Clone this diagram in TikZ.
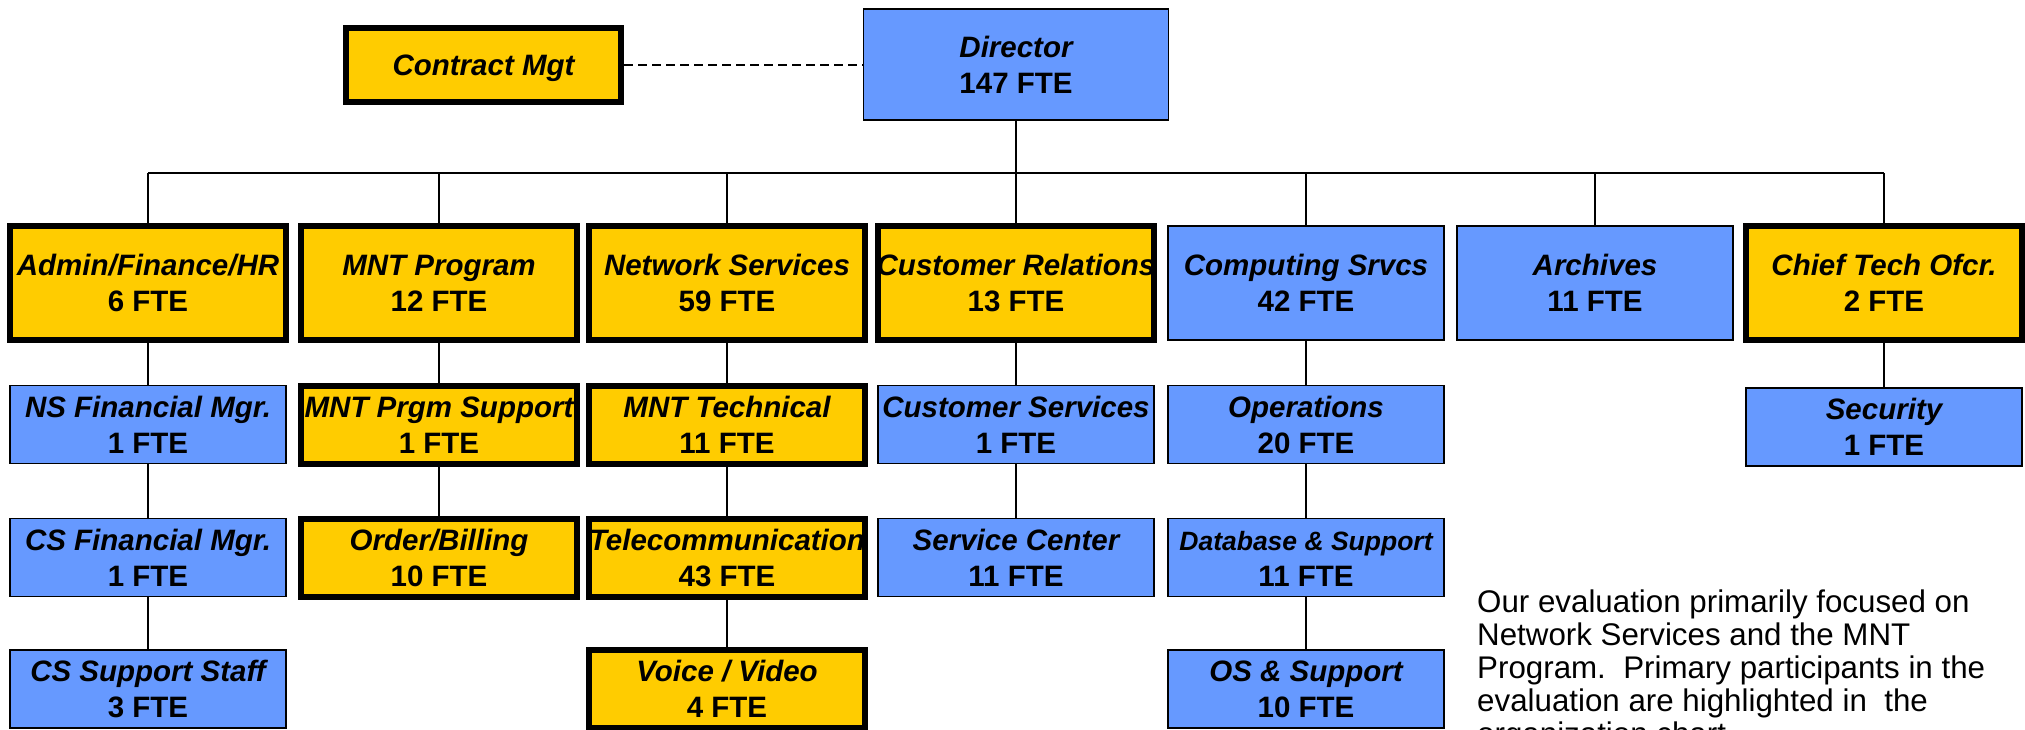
\documentclass[tikz,border=0pt]{standalone}
\usepackage{fontspec}
\setmainfont{Liberation Sans}
\definecolor{orgblue}{RGB}{102,153,255}
\definecolor{orggold}{RGB}{255,204,0}
% two-line entry: title (bold italic) over head count (bold)
\newcommand{\entry}[2]{\makebox[0pt]{\bfseries\itshape #1}\\\makebox[0pt]{\bfseries #2}}
\tikzset{
  unit/.style={draw=black, minimum width=276pt, inner sep=0pt, align=center,
    text height=57.5pt, text depth=0pt, font=\fontsize{29.5}{36}\selectfont},
  bluebox/.style={unit, fill=orgblue, line width=1.8pt},
  goldbox/.style={unit, fill=orggold, line width=6pt},
  tall/.style={minimum height=114pt},
  short/.style={minimum height=78pt},
  link/.style={line width=1.5pt},
  busline/.style={line width=2.2pt},
  dashline/.style={line width=1.5pt, dash pattern=on 9pt off 5pt},
  note/.style={anchor=north west, inner sep=0pt, align=left, text height=154.4pt,
    text depth=0pt, font=\fontsize{31.3}{33}\selectfont}
}
\begin{document}
\begin{tikzpicture}[x=1pt,y=-1pt]
\useasboundingbox (0,0) rectangle (2025,729);
\clip (0,0) rectangle (2025,729);

% top of the chart
\node[bluebox, minimum width=305pt, minimum height=111pt] (dir) at (1016,64.5) {\entry{Director}{147 FTE}};
\node[goldbox, minimum width=275pt, minimum height=74pt, text height=21.5pt] (cmg) at (483.5,65) {\makebox[0pt]{\bfseries\itshape Contract Mgt}};

% first level
\node[goldbox, tall] (adm) at (148,283)  {\entry{Admin/Finance/HR}{6 FTE}};
\node[goldbox, tall] (mnp) at (439,283)  {\entry{MNT Program}{12 FTE}};
\node[goldbox, tall] (nsv) at (727,283)  {\entry{Network Services}{59 FTE}};
\node[goldbox, tall] (crl) at (1016,283) {\entry{Customer Relations}{13 FTE}};
\node[bluebox, tall] (cps) at (1306,283) {\entry{Computing Srvcs}{42 FTE}};
\node[bluebox, tall] (arc) at (1595,283) {\entry{Archives}{11 FTE}};
\node[goldbox, tall] (cto) at (1884,283) {\entry{Chief Tech Ofcr.}{2 FTE}};

% second level
\node[bluebox, short] (nsf) at (148,424.5)  {\entry{NS Financial Mgr.}{1 FTE}};
\node[goldbox, short] (mps) at (439,424.5)  {\entry{MNT Prgm Support}{1 FTE}};
\node[goldbox, short] (mtc) at (727,424.5)  {\entry{MNT Technical}{11 FTE}};
\node[bluebox, short] (csv) at (1016,424.5) {\entry{Customer Services}{1 FTE}};
\node[bluebox, short] (ops) at (1306,424.5) {\entry{Operations}{20 FTE}};
\node[bluebox, short] (sec) at (1884,427)   {\entry{Security}{1 FTE}};

% third level
\node[bluebox, short] (csf) at (148,557.5)  {\entry{CS Financial Mgr.}{1 FTE}};
\node[goldbox, short] (obl) at (439,557.5)  {\entry{Order/Billing}{10 FTE}};
\node[goldbox, short] (tel) at (727,557.5)  {\entry{Telecommunication}{43 FTE}};
\node[bluebox, short] (svc) at (1016,557.5) {\entry{Service Center}{11 FTE}};
\node[bluebox, short] (dbs) at (1306,557.5) {\makebox[0pt]{\fontsize{26.5}{36}\selectfont\bfseries\itshape Database \& Support}\\\makebox[0pt]{\bfseries 11 FTE}};

% fourth level
\node[bluebox, short] (css) at (148,689)  {\entry{CS Support Staff}{3 FTE}};
\node[goldbox, short] (vvd) at (727,689)  {\entry{Voice / Video}{4 FTE}};
\node[bluebox, short] (oss) at (1306,689) {\entry{OS \& Support}{10 FTE}};

% connectors
\coordinate (bus) at (0,173);
\draw[dashline] (cmg.east) -- (cmg.east -| dir.west);
\draw[busline] (dir.south) -- (dir.south |- bus);
\draw[busline] (adm.north |- bus) -- (cto.north |- bus);
\foreach \n in {adm,mnp,nsv,crl,cps,arc,cto}
  \draw[link] (\n.north) -- (\n.north |- bus);
\draw[link] (adm) -- (nsf);
\draw[link] (nsf) -- (csf);
\draw[link] (csf) -- (css);
\draw[link] (mnp) -- (mps);
\draw[link] (mps) -- (obl);
\draw[link] (nsv) -- (mtc);
\draw[link] (mtc) -- (tel);
\draw[link] (tel) -- (vvd);
\draw[link] (crl) -- (csv);
\draw[link] (csv) -- (svc);
\draw[link] (cps) -- (ops);
\draw[link] (ops) -- (dbs);
\draw[link] (dbs) -- (oss);
\draw[link] (cto) -- (sec);

% explanatory note
\node[note] (txt) at (1477,589.6) {Our evaluation primarily focused on\\
Network Services and the MNT\\
Program.\ \ Primary participants in the\\
evaluation are highlighted in\ \ the\\
organization chart.};
\end{tikzpicture}
\end{document}
